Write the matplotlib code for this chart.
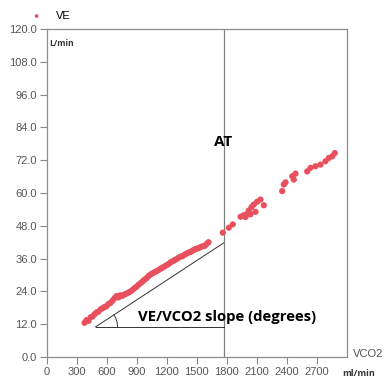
import matplotlib.pyplot as plt
import numpy as np

# VCO2 (ml/min) and VE (L/min)
vco2 = [380, 400, 420, 440, 460, 480, 500, 520, 540, 560, 580, 600, 620, 640,
        660, 680, 700, 720, 740, 760, 780, 800, 820, 840, 860, 880, 900, 920,
        940, 960, 980, 1000, 1020, 1040, 1060, 1080, 1100, 1120, 1140, 1160,
        1180, 1200, 1220, 1240, 1260, 1280, 1300, 1320, 1340, 1360, 1380, 1400,
        1420, 1440, 1460, 1480, 1500, 1520, 1540, 1560, 1580, 1600, 1620,
        1763, 1823, 1863, 1940, 1973, 1990, 2007, 2023, 2040, 2050, 2073, 2090,
        2107, 2140, 2173, 2357, 2373, 2390, 2457, 2473, 2490, 2607, 2640, 2690,
        2740, 2790, 2823, 2857, 2883]
ve = [12.5, 13.5, 13.2, 14.5, 14.8, 15.6, 16.3, 16.6, 17.4, 17.8, 18.3, 18.6,
      19.4, 19.8, 20.6, 21.5, 22.3, 21.8, 22.6, 22.4, 22.9, 23.2, 23.6, 24.0,
      24.5, 25.2, 25.7, 26.4, 27.0, 27.6, 28.3, 28.8, 29.6, 30.2, 30.6, 31.0,
      31.4, 31.8, 32.3, 32.7, 33.1, 33.6, 34.0, 34.6, 35.0, 35.4, 35.8, 36.3,
      36.7, 36.9, 37.4, 37.8, 38.2, 38.4, 38.9, 39.3, 39.6, 39.8, 40.2, 40.5,
      40.6, 41.3, 42.0,
      45.5, 47.3, 48.5, 51.3, 51.9, 51.2, 52.4, 53.6, 52.2, 54.8, 55.8, 53.1,
      56.8, 57.6, 55.5, 60.7, 63.1, 63.9, 66.1, 64.9, 67.1, 67.9, 69.2, 69.8,
      70.4, 71.6, 72.8, 73.4, 74.6]

at_vco2 = 1770
slope_start = (490, 11.0)
slope_end_ve = 41.7

yticks = np.arange(0, 121, 12)
xticks = np.arange(0, 2701, 300)

fig = plt.figure(figsize=(3.86, 3.78), dpi=100)
ax = fig.add_axes([0.1205, 0.0556, 0.7785, 0.8677])

red = '#e8505e'
ax.scatter(vco2, ve, marker='o', s=20, color=red, edgecolors='none',
           label='VE', zorder=3)

# anaerobic threshold line
ax.axvline(at_vco2, color='#808080', lw=0.9, zorder=2)
ax.text(at_vco2 - 5, 78.8, 'AT', ha='center', va='center',
        fontsize=11, fontweight='bold', family='Open Sans', color='black')

# slope triangle
x0, y0 = slope_start
ax.plot([x0, at_vco2], [y0, y0], color='#333333', lw=0.7)
ax.plot([x0, at_vco2], [y0, slope_end_ve], color='#333333', lw=0.7)
# small angle arc (drawn in pixel-proportional units)
px_x, px_y = 0.1, 2.731   # px per data unit
ang = np.arctan2((slope_end_ve - y0) * px_y, (at_vco2 - x0) * px_x)
t = np.linspace(0, ang, 30)
r = 22
ax.plot(x0 + r * np.cos(t) / px_x, y0 + r * np.sin(t) / px_y,
        color='#333333', lw=0.7)
ax.text(915, 14.6, 'VE/VCO2 slope (degrees)', ha='left', va='center',
        fontsize=10.7, fontweight='bold', family='Open Sans', color='black')

ax.set_xlim(0, 3005)
ax.set_ylim(0, 120)
ax.set_xticks(xticks)
ax.set_yticks(yticks)
ax.set_yticklabels([f'{v:.1f}' for v in yticks])
ax.tick_params(labelsize=8, colors='#888888', labelcolor='#555555',
               length=5, width=0.8, pad=2)
for lab in ax.get_xticklabels() + ax.get_yticklabels():
    lab.set_family('Liberation Sans')
for sp in ax.spines.values():
    sp.set_color('#8c8c8c')
    sp.set_linewidth(0.9)

ax.text(0.01, 0.97, 'L/min', transform=ax.transAxes, ha='left', va='top',
        fontsize=6, fontweight='bold', color='#333333', family='Open Sans')
fig.text(368 / 386, 1 - 354 / 378, 'VCO2', ha='center', va='center',
         fontsize=8, color='#555555', family='Liberation Sans')
fig.text(359 / 386, 1 - 374 / 378, 'ml/min', ha='center', va='center',
         fontsize=6.5, fontweight='bold', color='#333333', family='Open Sans')

ax.legend(loc='center left', bbox_to_anchor=(25.5 / 386, 1 - 16 / 378),
          bbox_transform=fig.transFigure, frameon=False, borderpad=0,
          handlelength=1.0, handletextpad=1.2, scatterpoints=1, markerscale=0.6,
          prop={'family': 'Liberation Sans', 'size': 8})

fig.savefig('out.png', dpi=100)
